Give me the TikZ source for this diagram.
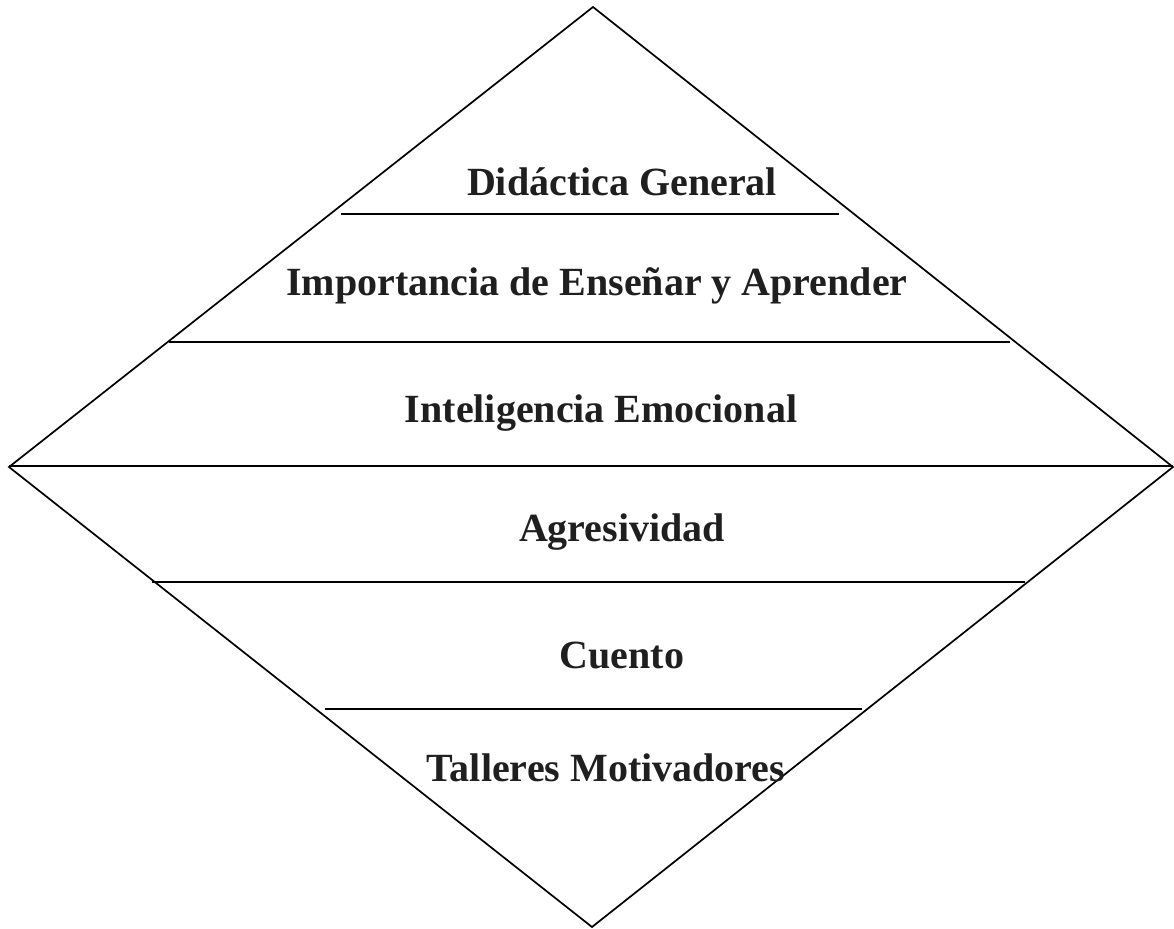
\documentclass[tikz,border=0pt]{standalone}
\usepackage{fontspec}
\setmainfont{Liberation Serif}
\begin{document}
\begin{tikzpicture}[x=1pt,y=-1pt,
  edge/.style={draw=black,line width=1.7pt},
  bar/.style={draw=black,line width=2.2pt},
  lab/.style={font=\fontsize{40}{44}\selectfont\bfseries,text=black!88,inner sep=0pt,anchor=base}]
\useasboundingbox (0,0) rectangle (1174,928);
\coordinate (T) at (593,7);
\coordinate (L) at (9,467);
\coordinate (R) at (1173,467);
\coordinate (B) at (592,927);
\draw[edge] (T) -- (R) -- (B) -- (L) -- cycle;
\coordinate (a1) at (341,214); \coordinate (a2) at (839,214);
\coordinate (b1) at (169,342); \coordinate (b2) at (1010,342);
\coordinate (c1) at (9,466); \coordinate (c2) at (1173,466);
\coordinate (d1) at (152,582); \coordinate (d2) at (1025,582);
\coordinate (e1) at (325,709); \coordinate (e2) at (862,709);
\draw[bar] (a1) -- (a2);
\draw[bar] (b1) -- (b2);
\draw[bar] (c1) -- (c2);
\draw[bar] (d1) -- (d2);
\draw[bar] (e1) -- (e2);
\node[lab] (t1) at (622,195) {Didáctica General};
\node[lab] (t2) at (597,295) {Importancia de Enseñar y Aprender};
\node[lab] (t3) at (601,422) {Inteligencia Emocional};
\node[lab] (t4) at (622,541) {Agresividad};
\node[lab] (t5) at (622,668) {Cuento};
\node[lab] (t6) at (606,781) {Talleres Motivadores};
\end{tikzpicture}
\end{document}
